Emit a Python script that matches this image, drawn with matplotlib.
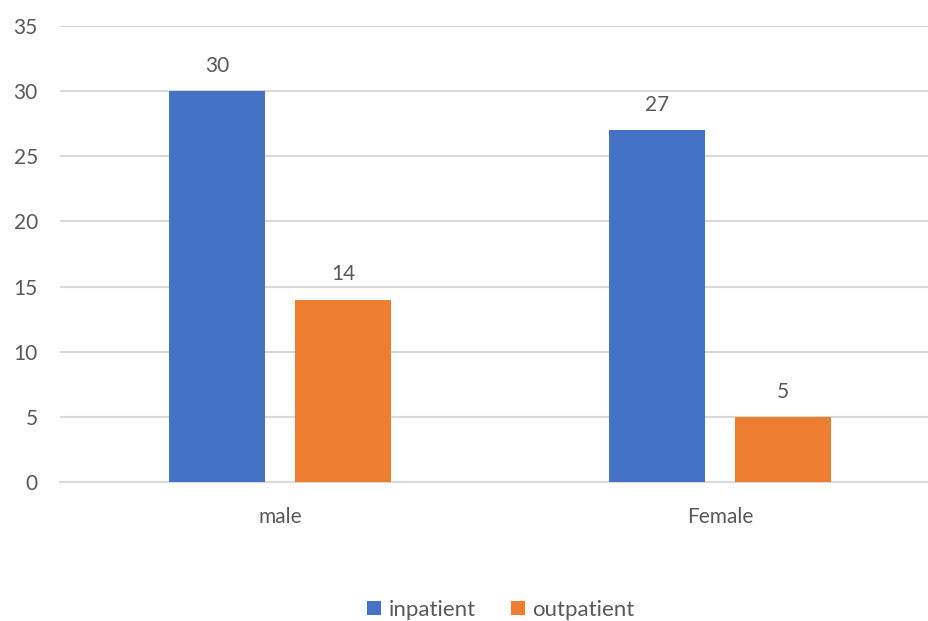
import matplotlib
matplotlib.use("Agg")
import matplotlib.pyplot as plt
import numpy as np

categories = ["male", "Female"]
series_names = ["inpatient", "outpatient"]
inpatient = [30, 27]
outpatient = [14, 5]
yticks = [0, 5, 10, 15, 20, 25, 30, 35]

colors = ["#4472C4", "#ED7D31"]
text_color = "#595959"
grid_color = "#D9D9D9"

plt.rcParams['font.family'] = ['Lato', 'DejaVu Sans']
fs = 15

W, H = 929, 621
fig = plt.figure(figsize=(W / 100, H / 100), dpi=100)
left_px, right_px = 60, 929
top_px, bottom_px = 26, 482
ax = fig.add_axes([left_px / W, 1 - bottom_px / H, (right_px - left_px) / W, (bottom_px - top_px) / H])

x = np.arange(len(categories))
width = 0.22
offset = 0.143
scale = 440.0  # px per category unit
ax.set_xlim(-0.5, -0.5 + (right_px - left_px) / scale)
ax.set_ylim(0, 35)

for vals, c, sgn, name in [(inpatient, colors[0], -1, series_names[0]), (outpatient, colors[1], 1, series_names[1])]:
    bars = ax.bar(x + sgn * offset, vals, width, color=c, label=name, zorder=3)
    for b, v in zip(bars, vals):
        ax.annotate(str(v), (b.get_x() + b.get_width() / 2, v), xytext=(0, 11),
                    textcoords="offset points", ha="center", va="bottom",
                    fontsize=fs, color=text_color)

ax.set_yticks(yticks)
ax.set_yticklabels([str(t) for t in yticks])
ax.yaxis.grid(True, color=grid_color, linewidth=1.5, zorder=0)
ax.set_axisbelow(True)
ax.set_xticks(x)
ax.set_xticklabels(categories)
ax.tick_params(axis='both', length=0, labelsize=fs, labelcolor=text_color)
ax.tick_params(axis='y', pad=16)
ax.tick_params(axis='x', pad=18)
for s in ["top", "right", "left"]:
    ax.spines[s].set_visible(False)
ax.spines["bottom"].set_color(grid_color)
ax.spines["bottom"].set_linewidth(1.5)

leg = fig.legend(loc="center", bbox_to_anchor=(501 / W, 1 - 610 / H), ncol=2, frameon=False,
                 fontsize=16, handlelength=0.6, handleheight=0.6, handletextpad=0.35,
                 columnspacing=1.6, labelcolor=text_color, borderpad=0)

fig.savefig("out.png", dpi=100)
